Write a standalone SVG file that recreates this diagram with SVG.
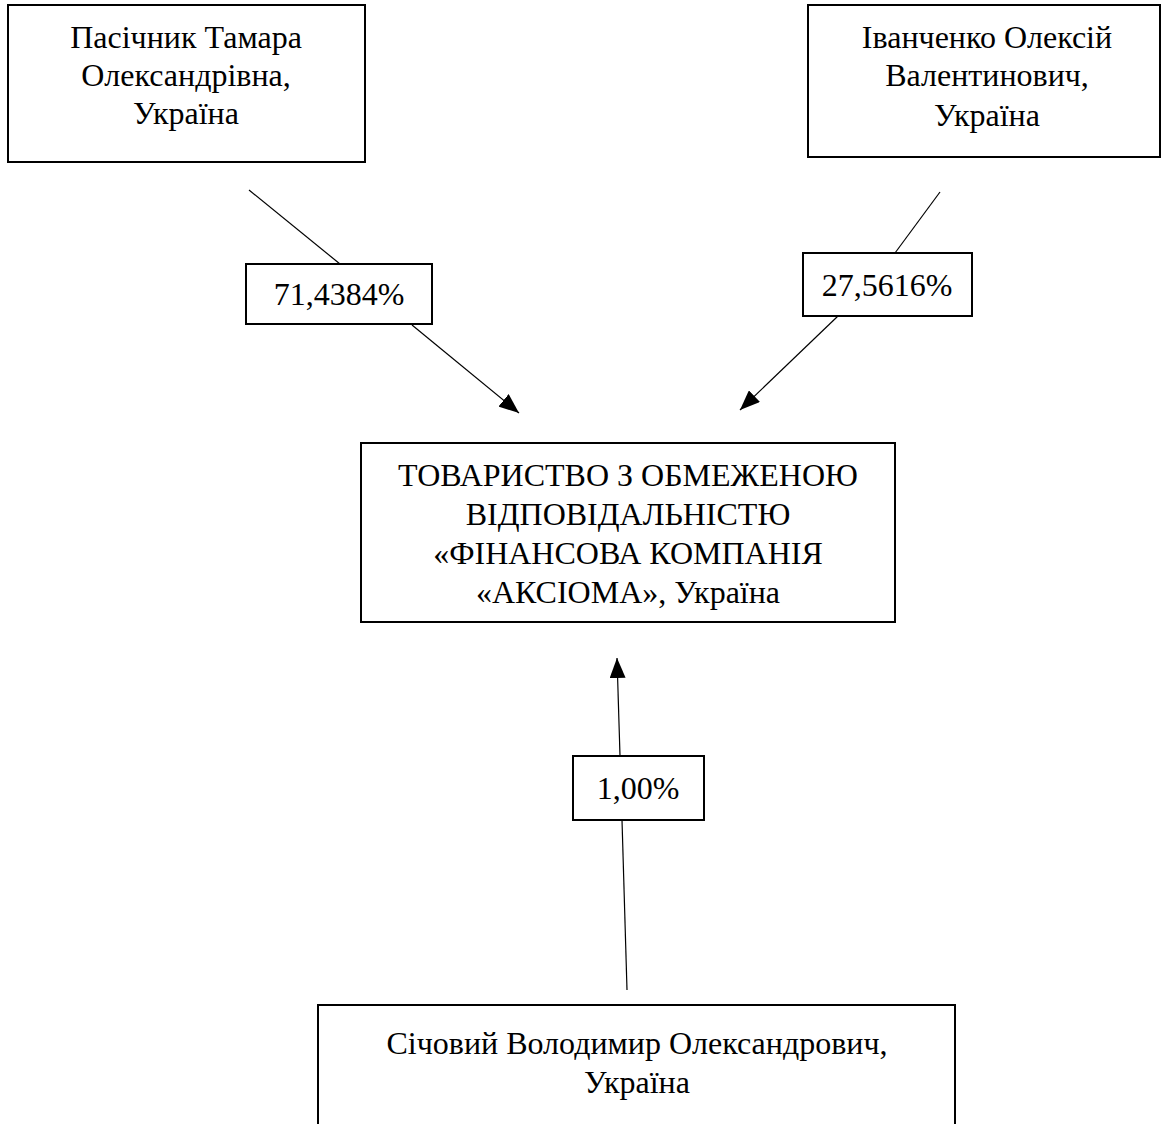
<svg xmlns="http://www.w3.org/2000/svg" width="1163" height="1124" viewBox="0 0 1163 1124">
<style>
.box{fill:#fff;stroke:#000;stroke-width:2}
.t{font-family:'Liberation Serif',serif;font-size:32px;fill:#000;text-anchor:middle}
.c{stroke:#000;stroke-width:1.2;fill:none}
</style>
<defs>
<marker id="ah" markerUnits="userSpaceOnUse" markerWidth="20" markerHeight="16" viewBox="0 0 20 16" refX="20" refY="8" orient="auto">
<path d="M0,0 L20,8 L0,16 Z" fill="#000"/>
</marker>
</defs>
<rect width="1163" height="1124" fill="#fff"/>
<g id="connectors">
<line class="c" x1="249" y1="190" x2="340" y2="264"/>
<line class="c" x1="412" y1="325" x2="519" y2="413" marker-end="url(#ah)"/>
<line class="c" x1="940" y1="192" x2="895" y2="253"/>
<line class="c" x1="838" y1="316" x2="740" y2="410" marker-end="url(#ah)"/>
<line class="c" x1="627" y1="990" x2="622" y2="820"/>
<line class="c" x1="620" y1="756" x2="617" y2="658" marker-end="url(#ah)"/>
</g>
<g id="node-pasichnyk">
<rect class="box" x="8" y="5" width="357" height="157"/>
<text class="t" x="186" y="48">Пасічник Тамара</text>
<text class="t" x="186" y="86">Олександрівна,</text>
<text class="t" x="186" y="124">Україна</text>
</g>
<g id="node-ivanchenko">
<rect class="box" x="808" y="5" width="352" height="152"/>
<text class="t" x="987" y="48">Іванченко Олексій</text>
<text class="t" x="987" y="86">Валентинович,</text>
<text class="t" x="987" y="126">Україна</text>
</g>
<g id="label-71">
<rect class="box" x="246" y="264" width="186" height="60"/>
<text class="t" x="339" y="305">71,4384%</text>
</g>
<g id="label-27">
<rect class="box" x="803" y="253" width="169" height="63"/>
<text class="t" x="887" y="296">27,5616%</text>
</g>
<g id="node-axioma">
<rect class="box" x="361" y="443" width="534" height="179"/>
<text class="t" x="628" y="486">ТОВАРИСТВО З ОБМЕЖЕНОЮ</text>
<text class="t" x="628" y="525">ВІДПОВІДАЛЬНІСТЮ</text>
<text class="t" x="628" y="564">«ФІНАНСОВА КОМПАНІЯ</text>
<text class="t" x="628" y="603">«АКСІОМА», Україна</text>
</g>
<g id="label-1">
<rect class="box" x="573" y="756" width="131" height="64"/>
<text class="t" x="638" y="799">1,00%</text>
</g>
<g id="node-sichovyi">
<rect class="box" x="318" y="1005" width="637" height="130"/>
<text class="t" x="637" y="1054">Січовий Володимир Олександрович,</text>
<text class="t" x="637" y="1093">Україна</text>
</g>
</svg>
